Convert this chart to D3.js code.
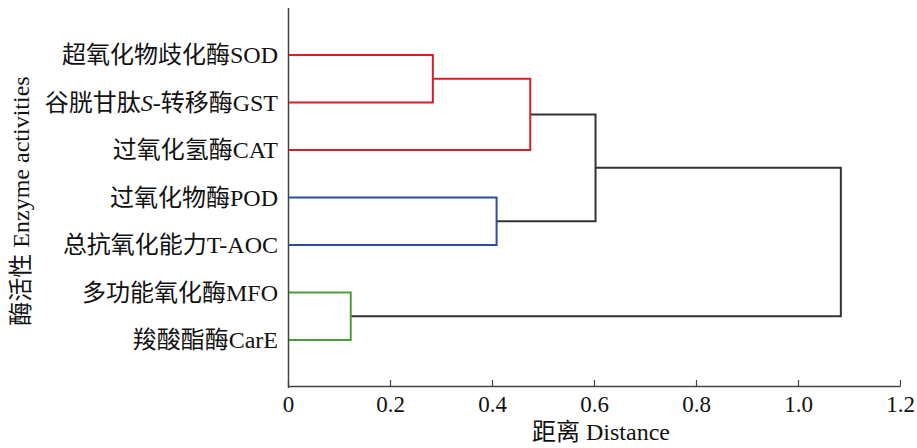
<!DOCTYPE html>
<html>
<head>
<meta charset="utf-8">
<script src="https://cdn.jsdelivr.net/npm/d3@7"></script>
<style>
  html, body { margin: 0; padding: 0; background: #fff; }
  svg { display: block; }
  text { font-family: "Liberation Serif", "Noto Sans CJK SC", serif; fill: #111; }
</style>
</head>
<body>
<svg id="chart" width="917" height="448"></svg>
<script>
// ---- data ----
const leaves = ["SOD", "GST", "CAT", "POD", "TAOC", "MFO", "CarE"];
const leafLabels = ["超氧化物歧化酶SOD", "谷胱甘肽S-转移酶GST", "过氧化氢酶CAT", "过氧化物酶POD",
                    "总抗氧化能力T-AOC", "多功能氧化酶MFO", "羧酸酯酶CarE"];
// merges: [child A, child B, distance, cluster]
const mergeIds   = ["n1", "n2", "n3", "n4", "n5", "root"];
const mergeLeft  = ["SOD", "n1", "POD", "n2", "MFO", "n4"];
const mergeRight = ["GST", "CAT", "TAOC", "n3", "CarE", "n5"];
const mergeDist  = [0.284, 0.475, 0.409, 0.603, 0.123, 1.084];
const mergeGroup = ["red", "red", "blue", "none", "green", "none"];
const xTicks = [0, 0.2, 0.4, 0.6, 0.8, 1.0, 1.2];
const xTickLabels = ["0", "0.2", "0.4", "0.6", "0.8", "1.0", "1.2"];
const groupColors = { red: "#d81e28", blue: "#2a4d9c", green: "#4e9a3f", none: "#333333" };

// ---- layout ----
const svg = d3.select("#chart");
const x = d3.scaleLinear().domain([0, 1.2]).range([288, 900]);
const y = d3.scaleLinear().domain([0, leaves.length + 1]).range([7.5, 387.5]);

// build hierarchy table
const nodes = {};
leaves.forEach((id, i) => { nodes[id] = { id, dist: 0, pos: i + 1, leaf: true }; });
mergeIds.forEach((id, i) => {
  const a = nodes[mergeLeft[i]], b = nodes[mergeRight[i]];
  nodes[id] = { id, dist: mergeDist[i], pos: (a.pos + b.pos) / 2, children: [a, b], group: mergeGroup[i] };
});
const root = d3.hierarchy(nodes["root"], d => d.children);

// ---- links ----
const g = svg.append("g");
root.descendants().filter(d => d.children).forEach(d => {
  const col = groupColors[d.data.group];
  const [a, b] = d.children;
  const px = x(d.data.dist);
  const path = d3.path();
  path.moveTo(x(a.data.dist), y(a.data.pos));
  path.lineTo(px, y(a.data.pos));
  path.lineTo(px, y(b.data.pos));
  path.lineTo(x(b.data.dist), y(b.data.pos));
  g.append("path").attr("d", path.toString())
    .attr("fill", "none").attr("stroke", col).attr("stroke-width", 2)
    .attr("stroke-linejoin", "miter");
});

// ---- axes ----
const xAxis = d3.axisBottom(x).tickValues(xTicks)
  .tickFormat((d, i) => xTickLabels[i]).tickSizeInner(-6).tickSizeOuter(0);
const gx = svg.append("g").attr("transform", `translate(0,${y.range()[1] - 1.5})`).call(xAxis);
gx.select(".domain").attr("stroke", "#444").attr("stroke-width", 1.5);
gx.selectAll(".tick line").attr("stroke", "#444").attr("stroke-width", 1.2);
gx.selectAll(".tick text").attr("y", 26).attr("dy", null)
  .style("font-size", "23px").style("font-family", '"Liberation Serif", serif').attr("fill", "#111");

const yAxis = d3.axisLeft(y).tickValues([]).tickSizeOuter(0);
const gy = svg.append("g").attr("transform", `translate(${x(0)},0)`).call(yAxis);
gy.select(".domain").attr("stroke", "#444").attr("stroke-width", 1.5);

// ---- leaf labels ----
leaves.forEach((id, i) => {
  const t = svg.append("text")
    .attr("x", x(0) - 10).attr("y", y(nodes[id].pos))
    .attr("dy", "0.35em").attr("text-anchor", "end")
    .style("font-size", "24px");
  const lab = leafLabels[i];
  const m = lab.match(/^(.*?)(S)(-.*)$/);
  if (m) {
    t.append("tspan").text(m[1]);
    t.append("tspan").style("font-style", "italic").text(m[2]);
    t.append("tspan").text(m[3]);
  } else {
    t.text(lab);
  }
});

// ---- axis titles ----
svg.append("text").attr("x", 601).attr("y", 440).attr("text-anchor", "middle")
  .style("font-size", "24px").text("距离 Distance");
svg.append("text").attr("transform", "translate(29,201) rotate(-90)")
  .attr("text-anchor", "middle").style("font-size", "24px").text("酶活性 Enzyme activities");
</script>
</body>
</html>
